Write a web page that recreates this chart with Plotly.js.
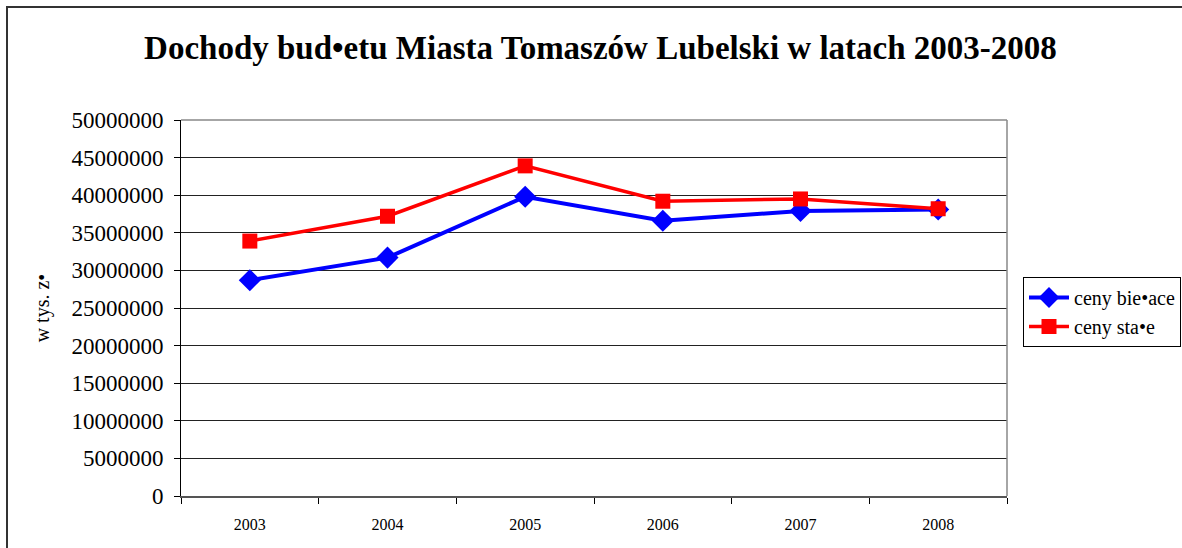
<!DOCTYPE html>
<html>
<head>
<meta charset="utf-8">
<script src="https://cdn.plot.ly/plotly-3.0.1.min.js"></script>
<style>
html,body{margin:0;padding:0;background:#fff;overflow:hidden;}
#frame{position:absolute;left:6px;top:6px;width:1200px;height:560px;border-left:2px solid #333;border-top:2px solid #333;box-sizing:border-box;pointer-events:none;z-index:10;}
#chart{width:1182px;height:548px;}
</style>
</head>
<body>
<div id="chart"></div>
<div id="frame"></div>
<script>
const years = ['2003','2004','2005','2006','2007','2008'];
const cenyBiezace = [28700000, 31700000, 39800000, 36600000, 37900000, 38100000];
const cenyStale = [33900000, 37200000, 43900000, 39200000, 39500000, 38200000];
const yTicks = [0,5000000,10000000,15000000,20000000,25000000,30000000,35000000,40000000,45000000,50000000];
const serif = 'Liberation Serif, Times New Roman, serif';

const traces = [
  {x: years, y: cenyBiezace, name: 'ceny bie•ace', type: 'scatter', mode: 'lines+markers',
   line: {color: '#0000ff', width: 4}, marker: {symbol: 'diamond', size: 17, color: '#0000ff'}},
  {x: years, y: cenyStale, name: 'ceny sta•e', type: 'scatter', mode: 'lines+markers',
   line: {color: '#ff0000', width: 3.5}, marker: {symbol: 'square', size: 15, color: '#ff0000'}}
];

const layout = {
  width: 1182, height: 548,
  margin: {l: 181, r: 175, t: 120, b: 52, autoexpand: false},
  paper_bgcolor: '#fff', plot_bgcolor: '#fff',
  showlegend: true,
  title: {text: '<b>Dochody bud•etu Miasta Tomaszów Lubelski w latach 2003-2008</b>',
          font: {family: serif, size: 33, color: '#000'},
          x: 0.508, xref: 'container', y: 1 - 47/548, yref: 'container', yanchor: 'middle'},
  xaxis: {type: 'category', tickson: 'boundaries', ticks: 'outside', ticklen: 6, tickcolor: '#000',
          ticklabelstandoff: 13,
          showgrid: false, showline: true, linecolor: '#555', linewidth: 1.5, mirror: false,
          tickfont: {family: serif, size: 16, color: '#000'}, range: [-0.5, 5.5], fixedrange: true},
  yaxis: {range: [0, 50000000], tickvals: yTicks, ticktext: yTicks.map(String),
          ticks: 'outside', ticklen: 6, tickcolor: '#000', ticklabelstandoff: 6,
          showgrid: true, gridcolor: '#222', gridwidth: 1, zeroline: false,
          showline: true, linecolor: '#000', linewidth: 1,
          tickfont: {family: serif, size: 23, color: '#000'},
          title: {text: 'w tys. z•', font: {family: serif, size: 20, color: '#000'}, standoff: 16}},
  legend: {xref: 'container', yref: 'container', x: 1023/1182, y: 1 - 277/548, xanchor: 'left', yanchor: 'top',
           bordercolor: '#000', borderwidth: 1, bgcolor: '#fff',
           font: {family: serif, size: 20, color: '#000'}, tracegroupgap: 0, itemwidth: 40},
  shapes: [
    {type: 'line', xref: 'paper', yref: 'paper', x0: 0, x1: 1, y0: 1, y1: 1, line: {color: '#888', width: 1.5}},
    {type: 'line', xref: 'paper', yref: 'paper', x0: 1, x1: 1, y0: 0, y1: 1, line: {color: '#888', width: 1.5}}
  ]
};

Plotly.newPlot('chart', traces, layout, {displayModeBar: false, staticPlot: true});
</script>
</body>
</html>
